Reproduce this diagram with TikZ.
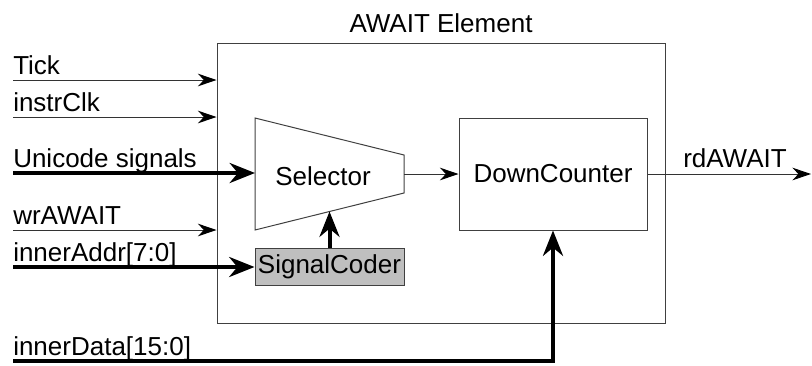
\documentclass[tikz,border=0pt]{standalone}
\usepackage{fontspec}
\setmainfont{Liberation Sans}
\usetikzlibrary{positioning, arrows.meta}

\tikzset{
  blk/.style={draw=black!75, line width=0.75pt, inner sep=0pt},
  sig/.style={draw=black!80, line width=0.75pt, -{Stealth[length=14pt, width=9.5pt, black]}},
  bus/.style={draw=black, line width=3pt, -{Stealth[length=19pt, width=15pt]}},
  lbl/.style={anchor=base west, inner sep=0pt}
}

\begin{document}
\begin{tikzpicture}[x=0.75pt, y=-0.75pt, font=\fontsize{19.5pt}{23pt}\selectfont]
		\useasboundingbox (0,0) rectangle (812,365);

		% blocks
		\node[blk, minimum width=336pt, minimum height=210pt] (outer) at (441,183) {};
		\node[anchor=base, inner sep=0pt] (title) at (441,32) {AWAIT Element};
		\node[blk, minimum width=141pt, minimum height=84pt] (cnt) at (553,174) {DownCounter};
		\node[blk, fill=black!25, minimum width=111.75pt, minimum height=27.75pt] (coder) at (329.5,266.5) {SignalCoder};

		% selector
		\coordinate (selNW) at (255,118);
		\coordinate (selNE) at (404,155);
		\coordinate (selSE) at (404,193);
		\coordinate (selSW) at (255,230);
		\draw[blk] (selNW) -- (selNE) -- (selSE) -- (selSW) -- cycle;
		\node (sel) at (323,176) {Selector};
		\coordinate (selIn) at (255,173);
		\coordinate (selOut) at (404,174);
		\coordinate (selBot) at (329.5,211.5);

		% input ends
		\coordinate (tickL) at (13,80);
		\coordinate (clkL) at (13,117);
		\coordinate (uniL) at (13,173);
		\coordinate (wrL) at (13,230);
		\coordinate (addrL) at (13,267);
		\coordinate (dataL) at (13,361);
		\coordinate (rdR) at (811,174);

		\node[lbl] (tickT) at (13,74) {Tick};
		\node[lbl] (clkT) at (13,111) {instrClk};
		\node[lbl] (uniT) at (13,167) {Unicode signals};
		\node[lbl] (wrT) at (13,224) {wrAWAIT};
		\node[lbl] (addrT) at (13,261) {innerAddr[7:0]};
		\node[lbl] (dataT) at (13,355) {innerData[15:0]};
		\node[anchor=base, inner sep=0pt] (rdT) at (735,167) {rdAWAIT};

		% connections
		\draw[sig] (tickL) -- (tickL -| outer.west);
		\draw[sig] (clkL) -- (clkL -| outer.west);
		\draw[sig] (wrL) -- (wrL -| outer.west);
		\draw[bus] (uniL) -- (selIn);
		\draw[bus] (addrL) -- (addrL -| coder.west);
		\draw[bus] (coder.north) -- (selBot);
		\draw[sig] (selOut) -- (selOut -| cnt.west);
		\draw[sig] (cnt.east) -- (rdR);
		\draw[bus] (dataL) -- (dataL -| cnt.south) -- (cnt.south);
	\end{tikzpicture}
\end{document}
